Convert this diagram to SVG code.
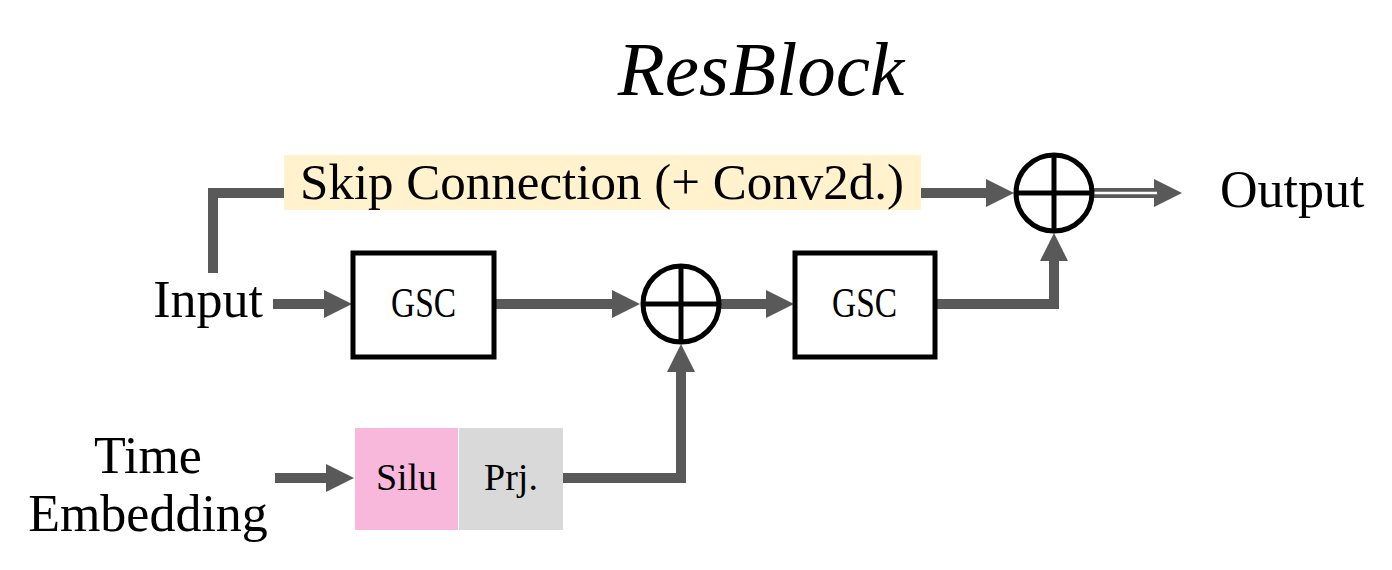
<svg xmlns="http://www.w3.org/2000/svg" width="1392" height="570" viewBox="0 0 1392 570">
  <style>
    .lbl { font-family: "Liberation Serif", "Times New Roman", serif; fill: #000; }
    .conn { fill: none; stroke: #595959; stroke-width: 10; stroke-linejoin: miter; }
    .box { fill: #fff; stroke: #000; stroke-width: 5; }
    .sum { fill: #fff; stroke: #000; stroke-width: 5; }
    .cross { stroke: #000; stroke-width: 5; }
  </style>
  <defs>
    <marker id="ah" markerUnits="userSpaceOnUse" markerWidth="30" markerHeight="30" refX="1" refY="14" orient="auto" overflow="visible">
      <path d="M0,0 L28,14 L0,28 Z" fill="#595959"/>
    </marker>
  </defs>
  <rect width="1392" height="570" fill="#fff"/>

  <text id="title" class="lbl" x="761" y="95" font-size="77" font-style="italic" text-anchor="middle">ResBlock</text>

  <g id="connectors">
    <path class="conn" d="M213,273 V193 H987" marker-end="url(#ah)"/>
    <path class="conn" d="M273,304 H325" marker-end="url(#ah)"/>
    <path class="conn" d="M494,304 H613" marker-end="url(#ah)"/>
    <path class="conn" d="M720,304 H767" marker-end="url(#ah)"/>
    <path class="conn" d="M935,304 H1054 V260" marker-end="url(#ah)"/>
    <path class="conn" d="M275,478 H327" marker-end="url(#ah)"/>
    <path class="conn" d="M563,478 H681 V371" marker-end="url(#ah)"/>
    <path class="conn" d="M1093,193 H1155" marker-end="url(#ah)"/>
    <path d="M1093,193 H1157" stroke="#fff" stroke-width="2.5" fill="none"/>
  </g>

  <g id="skip">
    <rect x="284" y="155" width="637" height="55" fill="#FFF2CC"/>
    <text class="lbl" x="602" y="199" font-size="51" text-anchor="middle">Skip Connection (+ Conv2d.)</text>
  </g>

  <g id="input">
    <text class="lbl" x="263" y="317" font-size="52" text-anchor="end">Input</text>
  </g>

  <g id="time">
    <text class="lbl" x="148" y="473" font-size="52" text-anchor="middle">Time</text>
    <text class="lbl" x="148" y="531" font-size="52" text-anchor="middle">Embedding</text>
  </g>

  <g id="gsc1">
    <rect class="box" x="353" y="253" width="141" height="104"/>
    <text class="lbl" x="391" y="317" font-size="42" textLength="65" lengthAdjust="spacingAndGlyphs">GSC</text>
  </g>

  <g id="gsc2">
    <rect class="box" x="795" y="253" width="140" height="104"/>
    <text class="lbl" x="832" y="317" font-size="42" textLength="65" lengthAdjust="spacingAndGlyphs">GSC</text>
  </g>

  <g id="sum1">
    <circle class="sum" cx="681" cy="304" r="38"/>
    <line class="cross" x1="643" y1="304" x2="719" y2="304"/>
    <line class="cross" x1="681" y1="266" x2="681" y2="342"/>
  </g>

  <g id="sum2">
    <circle class="sum" cx="1054" cy="193" r="38"/>
    <line class="cross" x1="1016" y1="193" x2="1092" y2="193"/>
    <line class="cross" x1="1054" y1="155" x2="1054" y2="231"/>
  </g>

  <g id="silu">
    <rect x="355" y="428" width="103" height="102" fill="#F8B8DC"/>
    <text class="lbl" x="406.5" y="490" font-size="38" text-anchor="middle">Silu</text>
  </g>

  <g id="prj">
    <rect x="459" y="428" width="104" height="102" fill="#D9D9D9"/>
    <text class="lbl" x="511" y="490" font-size="38" text-anchor="middle">Prj.</text>
  </g>

  <g id="output">
    <text class="lbl" x="1220" y="207" font-size="52">Output</text>
  </g>
</svg>
